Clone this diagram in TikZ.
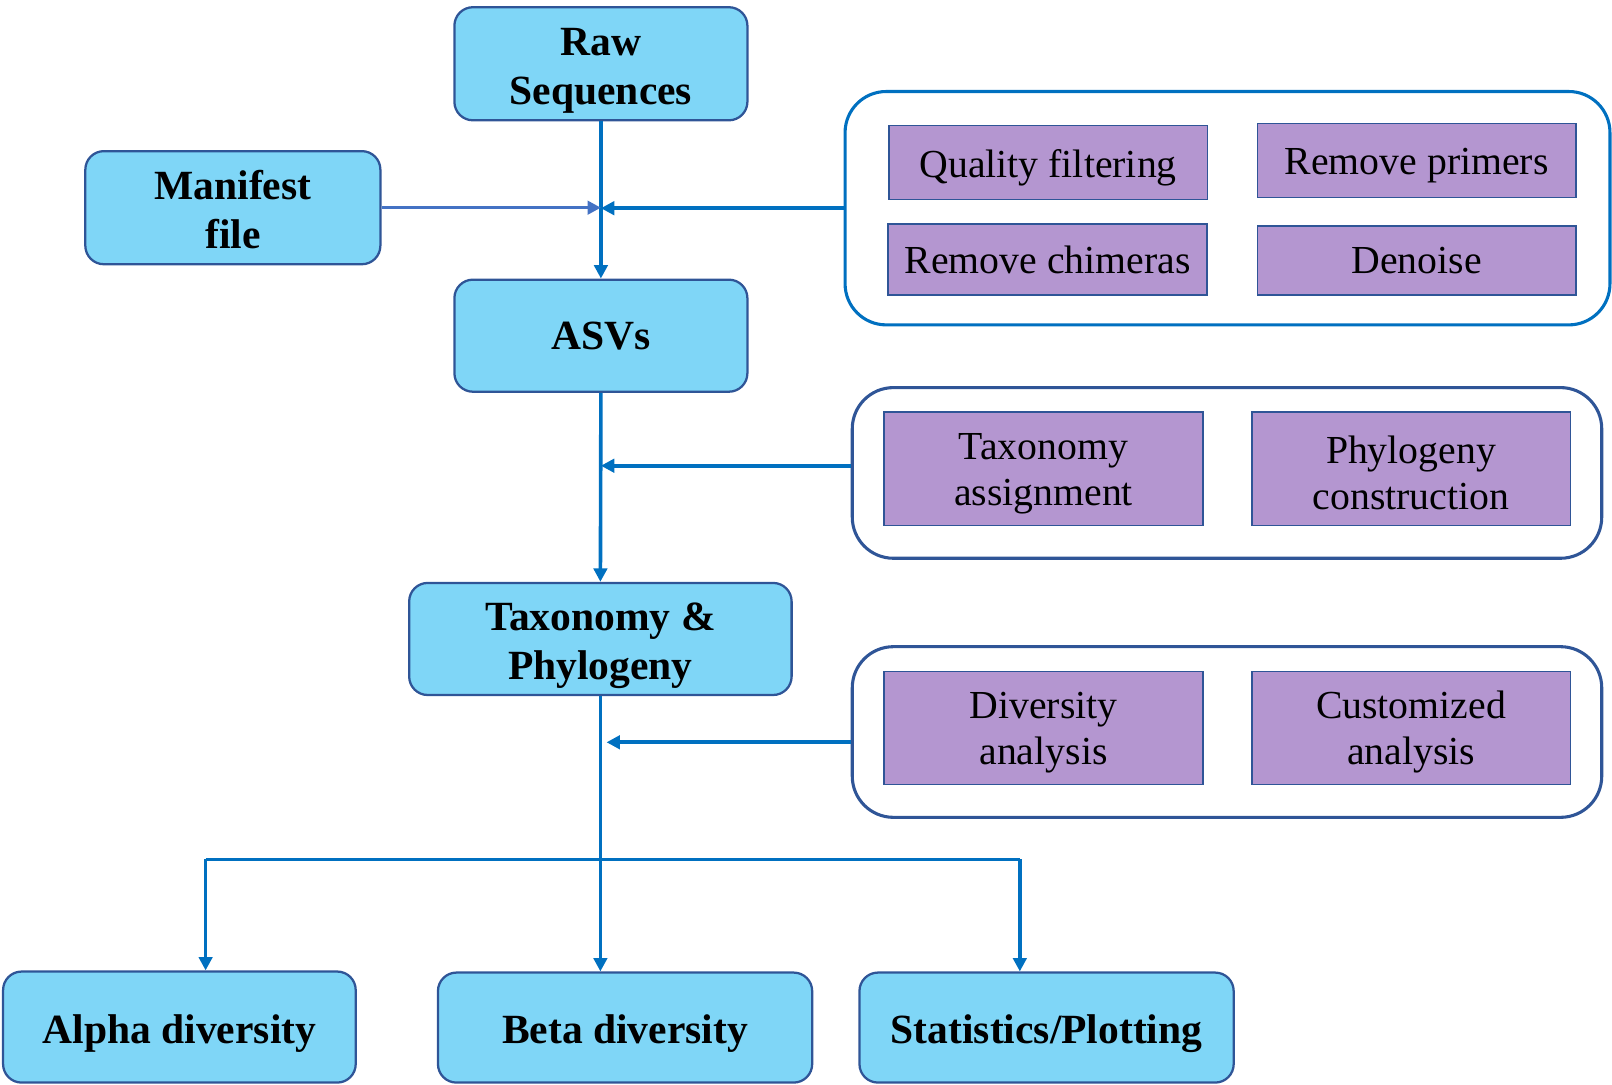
\documentclass[tikz,border=0pt]{standalone}
\usepackage{fontspec}
\setmainfont{Liberation Serif}
\usepackage{tikz}
\usetikzlibrary{arrows.meta,positioning,calc}
\definecolor{boxblue}{RGB}{127,214,247}
\definecolor{boxline}{RGB}{47,85,151}
\definecolor{arrowblue}{RGB}{0,112,192}
\definecolor{manblue}{RGB}{68,114,196}
\definecolor{lilac}{RGB}{180,150,208}
\tikzset{
  mainbox/.style={draw=boxline, fill=boxblue, line width=0.22mm, rounded corners=1.8mm,
    align=center, font=\fontsize{11.5}{13.4}\selectfont\bfseries, inner sep=0pt},
  stepitem/.style={draw=boxline, fill=lilac, line width=0.16mm, align=center,
    minimum width=3.1cm, font=\fontsize{11}{12.8}\selectfont, inner sep=0pt},
  groupbox/.style={draw=#1, line width=0.3mm, rounded corners=4mm, inner sep=0pt},
  flow/.style={draw=arrowblue, line width=0.35mm, -{Triangle[length=1.3mm,width=1.3mm]}},
  plain/.style={draw=arrowblue, line width=0.35mm}
}
\begin{document}
\begin{tikzpicture}
\useasboundingbox (0,0) rectangle (15.68,-10.55);
% main column
\node[mainbox, minimum width=2.85cm, minimum height=1.1cm, text height=8.7mm] (raw) at (5.845,-0.62) {Raw\\Sequences};
\node[mainbox, minimum width=2.87cm, minimum height=1.1cm, text height=7.9mm] (manifest) at (2.265,-2.02) {Manifest\\file};
\node[mainbox, minimum width=2.85cm, minimum height=1.09cm] (asv) at (5.845,-3.265) {ASVs};
\node[mainbox, minimum width=3.72cm, minimum height=1.09cm, text height=8.7mm] (taxphy) at (5.84,-6.215) {Taxonomy \&\\Phylogeny};
% results
\node[mainbox, minimum width=3.43cm, minimum height=1.08cm, text height=4mm] (alpha) at (1.745,-9.99) {Alpha diversity};
\node[mainbox, minimum width=3.64cm, minimum height=1.07cm, text height=4mm] (beta) at (6.08,-9.995) {Beta diversity};
\node[mainbox, minimum width=3.64cm, minimum height=1.07cm, text height=4mm] (stats) at (10.18,-9.995) {Statistics/Plotting};
% group 1: denoising
\node[groupbox=arrowblue, minimum width=7.44cm, minimum height=2.27cm] (grpA) at (11.94,-2.025) {};
\node[stepitem, minimum height=0.72cm, text height=3.7mm] (qual) at (10.195,-1.58) {Quality filtering};
\node[stepitem, minimum height=0.72cm, text height=3.6mm] (primer) at (13.78,-1.56) {Remove primers};
\node[stepitem, minimum height=0.69cm] (chim) at (10.19,-2.525) {Remove chimeras};
\node[stepitem, minimum height=0.67cm] (denoise) at (13.78,-2.535) {Denoise};
% group 2: taxonomy
\node[groupbox=boxline, minimum width=7.29cm, minimum height=1.66cm] (grpB) at (11.935,-4.6) {};
\node[stepitem, minimum height=1.1cm, text height=8mm] (taxa) at (10.15,-4.56) {Taxonomy\\assignment};
\node[stepitem, minimum height=1.1cm, text height=8mm] (phylo) at (13.725,-4.56) {Phylogeny\\construction};
% group 3: analysis
\node[groupbox=boxline, minimum width=7.29cm, minimum height=1.66cm] (grpC) at (11.935,-7.12) {};
\node[stepitem, minimum height=1.1cm, text height=8mm] (divan) at (10.15,-7.08) {Diversity\\analysis};
\node[stepitem, minimum height=1.1cm, text height=8mm] (custom) at (13.725,-7.08) {Customized\\analysis};
% connectors
\draw[flow] (raw.south) -- (asv.north);
\draw[flow, draw=manblue] (manifest.east) -- (manifest.east -| raw.south);
\draw[flow] (grpA.west) -- (grpA.west -| raw.south);
\draw[flow] (asv.south) -- (taxphy.north);
\draw[flow] ([yshift=0.07cm]grpB.west) -- ([yshift=0.07cm]grpB.west -| asv.south);
\draw[flow] ([yshift=-0.1cm]grpC.west) -- ([xshift=0.06cm,yshift=-0.1cm]grpC.west -| taxphy.south);
\coordinate (lsplit) at (2.00,-8.36);
\coordinate (rsplit) at (9.92,-8.36);
\draw[flow] (taxphy.south) -- (taxphy.south |- beta.north);
\draw[plain] (lsplit) -- (rsplit);
\draw[flow] (lsplit) -- (lsplit |- alpha.north);
\draw[flow] (rsplit) -- (rsplit |- stats.north);
\end{tikzpicture}
\end{document}
